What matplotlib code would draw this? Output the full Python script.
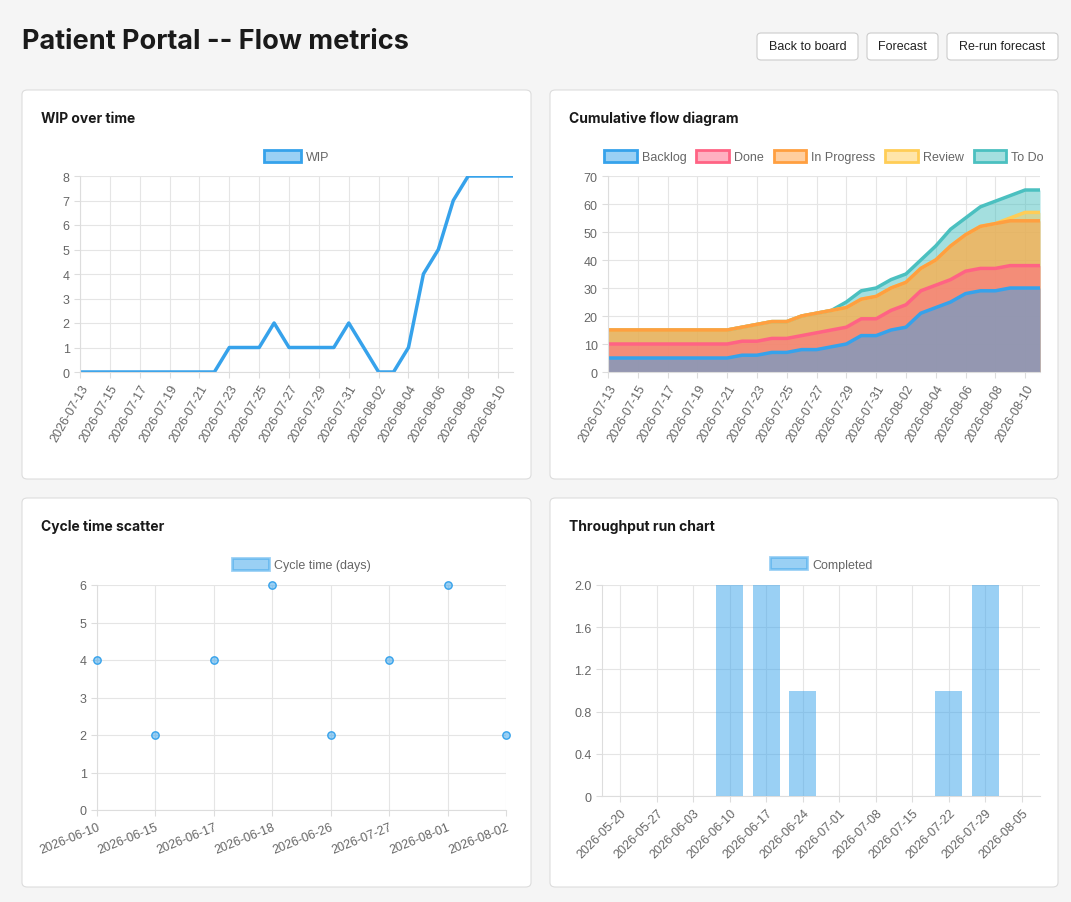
import matplotlib
matplotlib.use("Agg")
import matplotlib.pyplot as plt
from matplotlib.patches import FancyBboxPatch, Patch
import numpy as np

plt.rcParams['font.family'] = ['Liberation Sans', 'DejaVu Sans']

days = ["2026-07-%02d" % d for d in range(13, 32)] + ["2026-08-%02d" % d for d in range(1, 12)]
wip = [0,0,0,0,0,0,0,0,0,0,1,1,1,2,1,1,1,1,2,1,0,0,1,4,5,7,8,8,8,8]

backlog = [5,5,5,5,5,5,5,5,5,6,6,7,7,8,8,9,10,13,13,15,16,21,23,25,28,29,29,30,30,30]
done    = [5,5,5,5,5,5,5,5,5,5,5,5,5,5,6,6,6,6,6,7,8,8,8,8,8,8,8,8,8,8]
inprog  = [5,5,5,5,5,5,5,5,5,5,6,6,6,7,7,7,7,7,8,8,8,8,9,12,13,15,16,16,16,16]
review  = [0,0,0,0,0,0,0,0,0,0,0,0,0,0,0,0,0,0,0,0,0,0,0,0,0,0,0,1,3,3]
todo    = [0,0,0,0,0,0,0,0,0,0,0,0,0,0,0,0,2,3,3,3,3,3,5,6,6,7,8,8,8,8]

cycle_labels = ["2026-06-10","2026-06-15","2026-06-17","2026-06-18","2026-06-26","2026-07-27","2026-08-01","2026-08-02"]
cycle_days = [4,2,4,6,2,4,6,2]

weeks = ["2026-05-20","2026-05-27","2026-06-03","2026-06-10","2026-06-17","2026-06-24","2026-07-01",
         "2026-07-08","2026-07-15","2026-07-22","2026-07-29","2026-08-05"]
completed = [0,0,0,2,2,1,0,0,0,1,2,0]

W, H = 1071, 903
fig = plt.figure(figsize=(W/100, H/100), dpi=100, facecolor='#f5f5f5')

def fx(x): return x / W
def fy(y): return 1 - y / H

fig.text(fx(22), fy(42), "Patient Portal -- Flow metrics", fontsize=19.5, fontweight='bold',
         va='center', ha='left', color='#1a1a1a', family=['Inter', 'DejaVu Sans'])

for (x0, x1, t) in [(757, 858, "Back to board"), (867, 938, "Forecast"), (947, 1058, "Re-run forecast")]:
    fig.patches.append(FancyBboxPatch((fx(x0), fy(61)), fx(x1 - x0), (61 - 34) / H,
                                      boxstyle="round,pad=0,rounding_size=0.004", transform=fig.transFigure,
                                      facecolor='white', edgecolor='#cccccc', linewidth=0.8, zorder=-10))
    fig.text(fx((x0 + x1) / 2), fy(47.5), t, fontsize=9, ha='center', va='center', color='#222222')

cards = [(22, 91, 531, 480, "WIP over time"), (550, 91, 1058, 480, "Cumulative flow diagram"),
         (22, 499, 531, 888, "Cycle time scatter"), (550, 499, 1058, 888, "Throughput run chart")]
for (x0, y0, x1, y1, t) in cards:
    fig.patches.append(FancyBboxPatch((fx(x0), fy(y1)), fx(x1 - x0), (y1 - y0) / H,
                                      boxstyle="round,pad=0,rounding_size=0.005", transform=fig.transFigure,
                                      facecolor='white', edgecolor='#dddddd', linewidth=0.8, zorder=-10))
    fig.text(fx(x0 + 19), fy(y0 + 28), t, fontsize=10, fontweight='bold', ha='left', va='center',
             color='#1a1a1a', family=['Inter', 'DejaVu Sans'])

def mkax(x0, y0, x1, y1):
    ax = fig.add_axes([fx(x0), fy(y1), fx(x1 - x0), (y1 - y0) / H])
    ax.set_facecolor('none')
    for s in ax.spines.values():
        s.set_color('#dddddd')
    ax.spines['top'].set_visible(False)
    ax.spines['right'].set_visible(False)
    ax.grid(True, color='#e5e5e5', linewidth=0.8)
    ax.set_axisbelow(True)
    ax.tick_params(colors='#666666', labelsize=9, length=4, color='#dddddd')
    return ax

def legend(ax, items, y, hl=3, cs=1.0):
    hs = [Patch(facecolor=fc, edgecolor=ec, linewidth=2) for fc, ec, _ in items]
    ax.legend(hs, [l for _, _, l in items], loc='center', bbox_to_anchor=(0.5, y), ncol=len(items),
              frameon=False, fontsize=9, handlelength=hl, handleheight=1.1, columnspacing=cs,
              handletextpad=0.4, labelcolor='#666666')

BLUE = (54/255, 162/255, 235/255)
RED = (255/255, 99/255, 132/255)
ORANGE = (255/255, 159/255, 64/255)
YELLOW = (255/255, 205/255, 86/255)
TEAL = (75/255, 192/255, 192/255)
def a(c, al=0.5): return (*c, al)

x = np.arange(len(days))
even = x[::2]

# WIP
ax = mkax(80, 177, 513, 373)
ax.plot(x, wip, color=BLUE, linewidth=2.5)
ax.set_xlim(0, len(days) - 1)
ax.set_ylim(0, 8)
ax.set_yticks(range(0, 9))
ax.set_xticks(even)
ax.set_xticklabels([days[i] for i in even], rotation=60, ha='right', rotation_mode='anchor')
legend(ax, [(a(BLUE), BLUE, "WIP")], y=1.1)

# CFD
ax = mkax(608, 177, 1040, 373)
series = [(backlog, BLUE, "Backlog"), (done, RED, "Done"), (inprog, ORANGE, "In Progress"),
          (review, YELLOW, "Review"), (todo, TEAL, "To Do")]
cum = np.cumsum(np.array([s[0] for s in series]), axis=0)
for i in reversed(range(len(series))):
    ax.fill_between(x, 0, cum[i], color=a(series[i][1]), linewidth=0)
    ax.plot(x, cum[i], color=series[i][1], linewidth=2.5)
ax.set_xlim(0, len(days) - 1)
ax.set_ylim(0, 70)
ax.set_yticks(range(0, 71, 10))
ax.set_xticks(even)
ax.set_xticklabels([days[i] for i in even], rotation=60, ha='right', rotation_mode='anchor')
legend(ax, [(a(c), c, l) for _, c, l in series], y=1.1, hl=2.6, cs=0.8)

# Scatter
ax = mkax(97, 586, 506, 811)
xs = np.arange(len(cycle_labels))
ax.scatter(xs, cycle_days, s=28, color=a(BLUE), edgecolor=BLUE, linewidth=1, zorder=3, clip_on=False)
ax.set_xlim(0, len(cycle_labels) - 1)
ax.set_ylim(0, 6)
ax.set_xticks(xs)
ax.set_xticklabels(cycle_labels, rotation=22, ha='right', rotation_mode='anchor')
legend(ax, [(a(BLUE), a(BLUE), "Cycle time (days)")], y=1.09)

# Throughput
ax = mkax(602, 586, 1040, 797)
xw = np.arange(len(weeks))
ax.bar(xw, completed, width=0.74, color=a(BLUE), zorder=3)
ax.set_xlim(-0.5, len(weeks) - 0.5)
ax.set_ylim(0, 2)
ax.set_yticks([0, 0.4, 0.8, 1.2, 1.6, 2.0])
ax.set_yticklabels(["0", "0.4", "0.8", "1.2", "1.6", "2.0"])
ax.set_xticks(xw)
ax.set_xticklabels(weeks, rotation=45, ha='right', rotation_mode='anchor')
legend(ax, [(a(BLUE), a(BLUE), "Completed")], y=1.1)

fig.savefig("out.png", dpi=100, facecolor=fig.get_facecolor())
